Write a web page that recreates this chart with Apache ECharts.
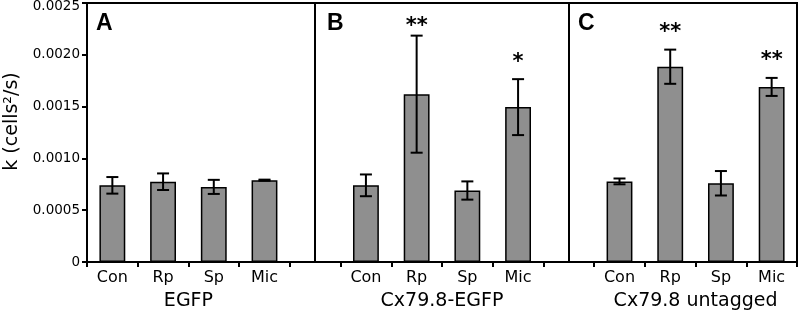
<!DOCTYPE html>
<html>
<head>
<meta charset="utf-8">
<script src="https://cdn.jsdelivr.net/npm/echarts@6/dist/echarts.min.js"></script>
<style>
  html, body { margin: 0; padding: 0; background: #fff; }
  #main { width: 800px; height: 315px; }
</style>
</head>
<body>
<div id="main"></div>
<script>
// data
const groupNames = ['EGFP', 'Cx79.8-EGFP', 'Cx79.8 untagged'];
const panelLetters = ['A', 'B', 'C'];
const treatments = ['Con', 'Rp', 'Sp', 'Mic'];

const meanEGFP = [0.000740, 0.000775, 0.000725, 0.000790];
const errEGFP = [0.000080, 0.000080, 0.000068, 0.000005];
const sigEGFP = ['', '', '', ''];

const meanTagged = [0.000740, 0.001620, 0.000690, 0.001495];
const errTagged = [0.000105, 0.000565, 0.000088, 0.000270];
const sigTagged = ['', '**', '', '*'];

const meanUntagged = [0.000778, 0.001885, 0.000760, 0.001690];
const errUntagged = [0.000028, 0.000165, 0.000118, 0.000087];
const sigUntagged = ['', '**', '', '**'];

const yTicks = [0, 0.0005, 0.0010, 0.0015, 0.0020, 0.0025];

// one long category axis with an empty slot between the groups (like the original)
const means = [meanEGFP, meanTagged, meanUntagged];
const errs = [errEGFP, errTagged, errUntagged];
const sigs = [sigEGFP, sigTagged, sigUntagged];
const categories = [];
const barData = [];
const errData = [];
const starText = [];
const dividers = [];
means.forEach((m, g) => {
  if (g > 0) {
    dividers.push({ xAxis: categories.length });
    categories.push('');
    barData.push('-');
  }
  m.forEach((v, i) => {
    errData.push([categories.length, v, errs[g][i]]);
    starText.push(sigs[g][i]);
    categories.push(treatments[i]);
    barData.push(v);
  });
});
const groupCenters = groupNames.map((n, g) => g * 5 + 2);

const FONT = 'DejaVu Sans';
const yMax = yTicks[yTicks.length - 1];
const chart = echarts.init(document.getElementById('main'));

chart.setOption({
  animation: false,
  grid: {
    left: 87, right: 3, top: 3, bottom: 53,
    outerBoundsMode: 'none',
    containLabel: false,
    show: true, borderColor: '#000', borderWidth: 2, backgroundColor: 'transparent'
  },
  xAxis: [{
    type: 'category',
    data: categories,
    axisLine: { lineStyle: { color: '#000', width: 2 } },
    axisTick: { show: true, length: 5, interval: 0, lineStyle: { color: '#000', width: 2 } },
    axisLabel: { interval: 0, color: '#000', fontFamily: FONT, fontSize: 16, margin: 8 },
    splitLine: { show: false }
  }, {
    type: 'value',
    position: 'bottom',
    offset: 22,
    min: 0,
    max: categories.length,
    interval: 1,
    axisLine: { show: false },
    axisTick: { show: false },
    splitLine: { show: false },
    axisLabel: {
      color: '#000', fontFamily: FONT, fontSize: 19, margin: 8,
      showMinLabel: true, showMaxLabel: true,
      formatter: v => {
        const g = groupCenters.indexOf(Math.round(v));
        return g >= 0 ? groupNames[g] : '';
      }
    }
  }],
  yAxis: {
    type: 'value',
    min: yTicks[0],
    max: yMax,
    interval: 0.0005,
    name: 'k (cells²/s)',
    nameLocation: 'middle',
    nameRotate: 90,
    nameGap: 64,
    nameTextStyle: { color: '#000', fontFamily: FONT, fontSize: 19, padding: [0, 0, 0, 22] },
    axisLine: { show: true, lineStyle: { color: '#000', width: 2 } },
    axisTick: { show: true, length: 5, lineStyle: { color: '#000', width: 2 } },
    axisLabel: {
      color: '#000', fontFamily: FONT, fontSize: 13.5, margin: 7,
      formatter: v => (v === 0 ? '0' : v === yMax ? '{top|' + v.toFixed(4) + '}' : v.toFixed(4)),
      rich: { top: { fontFamily: FONT, fontSize: 13.5, color: '#000', padding: [7, 0, 0, 0] } }
    },
    splitLine: { show: false }
  },
  series: [{
    type: 'bar',
    data: barData,
    barWidth: '51%',
    itemStyle: { color: '#8f8f8f', borderColor: '#000', borderWidth: 1.5 },
    markLine: {
      silent: true,
      symbol: 'none',
      label: { show: false },
      lineStyle: { color: '#000', width: 2, type: 'solid' },
      data: dividers
    }
  }, {
    type: 'custom',
    data: errData,
    z: 5,
    renderItem: (params, api) => {
      const x = api.value(0);
      const m = api.value(1);
      const e = api.value(2);
      const hi = api.coord([x, m + e]);
      const lo = api.coord([x, m - e]);
      const cap = 6;
      const style = { stroke: '#000', lineWidth: 2 };
      const children = [
        { type: 'line', shape: { x1: hi[0], y1: hi[1], x2: lo[0], y2: lo[1] }, style },
        { type: 'line', shape: { x1: hi[0] - cap, y1: hi[1], x2: hi[0] + cap, y2: hi[1] }, style },
        { type: 'line', shape: { x1: lo[0] - cap, y1: lo[1], x2: lo[0] + cap, y2: lo[1] }, style }
      ];
      const s = starText[params.dataIndex];
      if (s) {
        children.push({
          type: 'text',
          style: {
            text: s, x: hi[0], y: Math.max(hi[1] - 17, 27),
            align: 'center', verticalAlign: 'middle',
            font: 'bold 21px "DejaVu Sans"', fill: '#000'
          }
        });
      }
      return { type: 'group', children };
    }
  }],
  graphic: panelLetters.map((t, g) => ({
    type: 'text',
    left: [96, 327, 578][g],
    top: 12,
    style: { text: t, font: 'bold 23px "Liberation Sans"', fill: '#000' }
  }))
});
</script>
</body>
</html>
